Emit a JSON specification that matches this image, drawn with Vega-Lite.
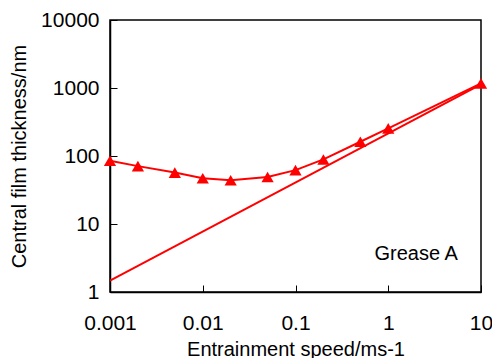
{
  "$schema": "https://vega.github.io/schema/vega-lite/v6.json",
  "autosize": {"type": "none"},
  "padding": {"left": 110, "top": 20, "right": 11, "bottom": 66},
  "width": 371,
  "height": 272,
  "background": "white",
  "config": {
    "font": "Liberation Sans",
    "view": {"stroke": "black", "strokeWidth": 1.5},
    "axis": {
      "grid": false,
      "domainColor": "black",
      "domainWidth": 1.5,
      "tickColor": "black",
      "tickWidth": 1,
      "tickSize": -7,
      "labelFlush": false,
      "labelFont": "Liberation Sans",
      "labelFontSize": 21,
      "labelColor": "black",
      "titleFont": "Liberation Sans",
      "titleFontSize": 20,
      "titleFontWeight": "normal",
      "titleColor": "black"
    }
  },
  "datasets": {
    "curve": [
      {"speed": 0.001, "thickness": 85},
      {"speed": 0.002, "thickness": 71},
      {"speed": 0.005, "thickness": 57},
      {"speed": 0.01, "thickness": 47},
      {"speed": 0.02, "thickness": 44},
      {"speed": 0.05, "thickness": 49},
      {"speed": 0.1, "thickness": 62},
      {"speed": 0.2, "thickness": 89},
      {"speed": 0.5, "thickness": 162},
      {"speed": 1, "thickness": 255},
      {"speed": 10, "thickness": 1170}
    ],
    "theory": [
      {"speed": 0.001, "thickness": 1.47},
      {"speed": 10, "thickness": 1130}
    ],
    "label": [
      {"speed": 2, "thickness": 3.6, "text": "Grease A"}
    ]
  },
  "layer": [
    {
      "data": {"name": "theory"},
      "mark": {"type": "line", "color": "#ff0000", "strokeWidth": 2, "clip": true},
      "encoding": {
        "x": {
          "field": "speed", "type": "quantitative",
          "scale": {"type": "log", "domain": [0.001, 10], "nice": false},
          "axis": {"title": "Entrainment speed/ms-1", "values": [0.001, 0.01, 0.1, 1, 10], "format": "~g", "labelPadding": 27, "titlePadding": 6}
        },
        "y": {
          "field": "thickness", "type": "quantitative",
          "scale": {"type": "log", "domain": [1, 10000], "nice": false},
          "axis": {"title": "Central film thickness/nm", "values": [1, 10, 100, 1000, 10000], "format": "~g", "labelPadding": 18, "titlePadding": 11}
        }
      }
    },
    {
      "data": {"name": "curve"},
      "mark": {"type": "line", "color": "#ff0000", "strokeWidth": 2, "clip": false,
               "point": {"shape": "triangle-up", "size": 150, "filled": true, "color": "#ff0000"}},
      "encoding": {
        "x": {"field": "speed", "type": "quantitative"},
        "y": {"field": "thickness", "type": "quantitative"}
      }
    },
    {
      "data": {"name": "label"},
      "mark": {"type": "text", "fontSize": 20, "font": "Liberation Sans", "color": "black", "align": "center", "baseline": "middle"},
      "encoding": {
        "x": {"field": "speed", "type": "quantitative"},
        "y": {"field": "thickness", "type": "quantitative"},
        "text": {"field": "text"}
      }
    }
  ]
}
